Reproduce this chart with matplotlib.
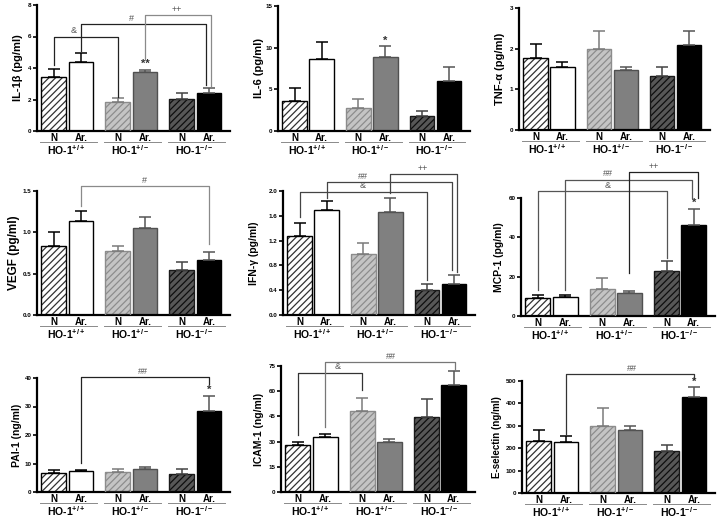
import matplotlib
matplotlib.use("Agg")
import matplotlib.pyplot as plt
from matplotlib.transforms import offset_copy

plt.rcParams["font.family"] = ["Liberation Sans", "DejaVu Sans"]
plt.rcParams["mathtext.fontset"] = "custom"
plt.rcParams["mathtext.rm"] = "Liberation Sans"
plt.rcParams["mathtext.bf"] = "Liberation Sans:bold"
plt.rcParams["hatch.linewidth"] = 0.9

# ---- data ----
treatments = ["N", "Ar.", "N", "Ar.", "N", "Ar."]
genotypes = ["+/+", "+/-", "-/-"]

ylabels = ["IL-1β (pg/ml)", "IL-6 (pg/ml)", "TNF-α (pg/ml)",
           "VEGF (pg/ml)", "IFN-γ (pg/ml)", "MCP-1 (pg/ml)",
           "PAI-1 (ng/ml)", "ICAM-1 (ng/ml)", "E-selectin (ng/ml)"]

il1b_mean = [3.44, 4.37, 1.85, 3.72, 2.02, 2.42]
il1b_sem = [0.49, 0.56, 0.25, 0.18, 0.40, 0.28]
il6_mean = [3.56, 8.6, 2.76, 8.88, 1.84, 6.04]
il6_sem = [1.64, 2.04, 1.08, 1.28, 0.52, 1.6]
tnf_mean = [1.76, 1.56, 2.0, 1.47, 1.33, 2.08]
tnf_sem = [0.35, 0.12, 0.43, 0.09, 0.21, 0.36]
vegf_mean = [0.83, 1.14, 0.78, 1.05, 0.55, 0.67]
vegf_sem = [0.17, 0.12, 0.06, 0.13, 0.09, 0.09]
ifn_mean = [1.27, 1.70, 0.98, 1.66, 0.40, 0.50]
ifn_sem = [0.22, 0.14, 0.18, 0.23, 0.10, 0.15]
mcp_mean = [8.9, 9.7, 13.8, 11.8, 22.8, 46.2]
mcp_sem = [1.7, 1.2, 5.3, 1.0, 5.2, 8.3]
pai_mean = [6.7, 7.2, 6.9, 8.0, 6.4, 28.4]
pai_sem = [0.9, 0.5, 1.0, 0.7, 1.6, 5.4]
icam_mean = [27.8, 32.7, 48.0, 30.0, 44.8, 63.5]
icam_sem = [2.0, 2.0, 8.2, 1.7, 10.6, 8.5]
esel_mean = [234, 229, 298, 281, 189, 427]
esel_sem = [47, 24, 83, 18, 24, 45]

yticks = [[0, 2, 4, 6, 8], [0, 5, 10, 15], [0, 1, 2, 3],
          [0.0, 0.5, 1.0, 1.5], [0.0, 0.4, 0.8, 1.2, 1.6, 2.0], [0, 20, 40, 60],
          [0, 10, 20, 30, 40], [0, 15, 30, 45, 60, 75], [0, 100, 200, 300, 400, 500]]
ytick_fmt = ["%d", "%d", "%d", "%.1f", "%.1f", "%d", "%d", "%d", "%d"]

# significance brackets: (bar from, y from, bar to, y to, top, label, label x, end shift, colour)
il1b_sig = [(0, 4.18, 2, 2.17, 5.99, "&", 0.75, 0.0, "#222222"),
            (1, 5.1, 5, 2.9, 6.8, "#", 2.86, -0.12, "#222222"),
            (3, 4.55, 5, 2.85, 7.37, "++", 4.54, 0.07, "#8a8a8a")]
vegf_sig = [(1, 1.32, 5, 0.86, 1.56, "#", 3.36, 0.0, "#8a8a8a")]
ifn_sig = [(0, 1.58, 4, 0.57, 1.99, "&", 2.33, 0.0, "#444444"),
           (1, 1.89, 5, 0.73, 2.14, "##", 2.33, -0.06, "#444444"),
           (3, 1.96, 5, 0.70, 2.27, "++", 4.58, 0.13, "#444444")]
mcp_sig = [(0, 13.1, 4, 29.7, 63.4, "&", 2.57, 0.0, "#555555"),
           (1, 13.1, 5, 60.0, 69.4, "##", 2.57, -0.07, "#555555"),
           (3, 22.0, 5, 60.0, 73.2, "++", 4.25, 0.14, "#222222")]
pai_sig = [(1, 10.1, 5, 38.0, 40.3, "##", 3.3, 0.0, "#222222")]
icam_sig = [(0, 33.7, 2, 60.5, 71.0, "&", 1.46, 0.0, "#333333"),
            (1, 38.7, 5, 72.4, 77.4, "##", 3.4, 0.06, "#777777")]
esel_sig = [(1, 262, 5, 507, 531, "##", 3.42, 0.02, "#333333")]

# asterisks over bars: (bar, y, label)
il1b_star = [(3, 3.92, "**")]
il6_star = [(3, 10.2, "*")]
mcp_star = [(5, 55.0, "*")]
pai_star = [(5, 34.2, "*")]
esel_star = [(5, 474, "*")]

means = [il1b_mean, il6_mean, tnf_mean, vegf_mean, ifn_mean, mcp_mean,
         pai_mean, icam_mean, esel_mean]
sems = [il1b_sem, il6_sem, tnf_sem, vegf_sem, ifn_sem, mcp_sem,
        pai_sem, icam_sem, esel_sem]
sigs = [il1b_sig, [], [], vegf_sig, ifn_sig, mcp_sig, pai_sig, icam_sig, esel_sig]
stars = [il1b_star, il6_star, [], [], [], mcp_star, pai_star, [], esel_star]

# ---- layout / style ----
bar_pos = [0, 1, 2.36, 3.36, 4.72, 5.72]
bar_w = 0.91
face = ["white", "white", "#c4c4c4", "#808080", "#575757", "black"]
hatch = ["/////", None, "/////", None, "/////", None]
hatch_col = ["#333333", None, "#8c8c8c", None, "#0e0e0e", None]
edge = ["black", "black", "#8c8c8c", "#505050", "#1a1a1a", "black"]
err_col = ["black", "black", "#7a7a7a", "#555555", "#444444", "#555555"]

# axes boxes in pixels: left, top, right, bottom
boxes = [(37, 5, 230, 131), (278, 6, 470, 131), (519, 8, 710, 130),
         (37, 191, 230, 315), (283, 191, 475, 315), (521, 198, 715, 316),
         (37, 378, 230, 492), (281, 366, 475, 492), (522, 381, 715, 493)]
ylab_size = [8, 8, 8, 8.5, 7.5, 7.5, 7.5, 7.5, 7]
ylab_off = [19, 19, 19, 23, 29, 22, 20, 22, 25]

W, H = 720, 522
fig = plt.figure(figsize=(W / 100, H / 100), dpi=100)

for k in range(9):
    l, t, r, b = boxes[k]
    ax = fig.add_axes([l / W, 1 - b / H, (r - l) / W, (b - t) / H])
    m, s = means[k], sems[k]

    for i in range(6):
        x = bar_pos[i]
        if hatch[i]:
            ax.bar(x, m[i], bar_w, color=face[i], edgecolor=hatch_col[i],
                   hatch=hatch[i], linewidth=0, zorder=2)
            ax.bar(x, m[i], bar_w, facecolor="none", edgecolor=edge[i],
                   linewidth=1.0, zorder=3)
        else:
            ax.bar(x, m[i], bar_w, color=face[i], edgecolor=edge[i],
                   linewidth=1.0, zorder=2)
        ax.errorbar(x, m[i], yerr=[[0], [s[i]]], fmt="none", ecolor=err_col[i],
                    elinewidth=1.1, capsize=4.5, capthick=1.1, zorder=4)

    ax.set_xlim(-0.62, 6.5)
    ax.set_ylim(0, yticks[k][-1])
    ax.set_yticks(yticks[k])
    ax.set_yticklabels([ytick_fmt[k] % v for v in yticks[k]])
    ax.set_xticks([])
    for sp in ["top", "right"]:
        ax.spines[sp].set_visible(False)
    ax.spines["left"].set_linewidth(1.6)
    ax.spines["bottom"].set_linewidth(1.6)
    ax.tick_params(axis="y", length=3, width=1.2, labelsize=4.5, pad=1)
    for lab in ax.get_yticklabels():
        lab.set_fontweight("bold")

    ax.text(-ylab_off[k] / (r - l), 0.5, ylabels[k], transform=ax.transAxes,
            rotation=90, ha="center", va="center", fontsize=ylab_size[k],
            fontweight="bold")

    # treatment / genotype labels under the axis
    trans = ax.get_xaxis_transform()
    for i in range(6):
        ax.annotate(treatments[i], xy=(bar_pos[i], 0), xycoords=trans,
                    xytext=(0, -1.5), textcoords="offset points",
                    ha="center", va="top", fontsize=7, fontweight="bold")
    line_tr = offset_copy(trans, fig=fig, y=-8, units="points")
    for g in range(3):
        x0 = bar_pos[2 * g] - 0.5
        x1 = bar_pos[2 * g + 1] + 0.6
        ax.plot([x0, x1], [0, 0], transform=line_tr, color="#8a8a8a",
                lw=0.7, clip_on=False)
        ax.annotate("HO-1$^{\\mathbf{" + genotypes[g] + "}}$",
                    xy=((x0 + x1) / 2 - 0.1, 0), xycoords=trans,
                    xytext=(0, -8.5), textcoords="offset points",
                    ha="center", va="top", fontsize=7.5, fontweight="bold")

    # significance brackets
    for i1, y1, i2, y2, top, lab, lx, dx, col in sigs[k]:
        xa = bar_pos[i1]
        xb = bar_pos[i2] + dx
        ax.plot([xa, xa, xb, xb], [y1, top, top, y2], color=col, lw=0.9,
                clip_on=False, zorder=5)
        ax.annotate(lab, xy=(lx, top), xytext=(0, 1), textcoords="offset points",
                    ha="center", va="bottom", fontsize=6.5, color="#555555",
                    annotation_clip=False)
    for i, y, lab in stars[k]:
        ax.annotate(lab, xy=(bar_pos[i], y), xytext=(0, 0),
                    textcoords="offset points", ha="center", va="bottom",
                    fontsize=8, fontweight="bold", color="#333333",
                    annotation_clip=False)

fig.savefig("out.png", dpi=100)
